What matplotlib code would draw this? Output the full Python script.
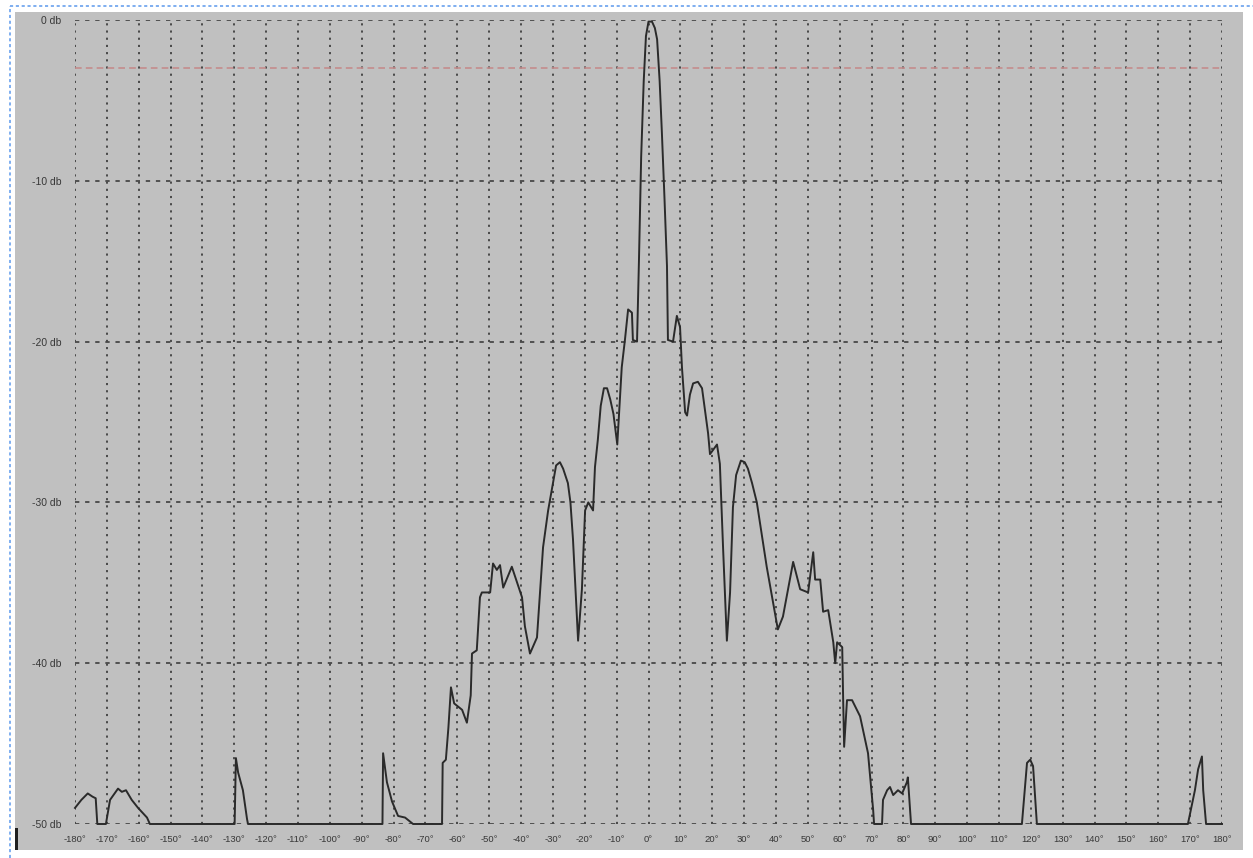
import matplotlib
matplotlib.use("Agg")
import matplotlib.pyplot as plt
from matplotlib.patches import Rectangle
from matplotlib.lines import Line2D

angle = [-180, -178, -176, -174.5, -173.5, -173, -170.3, -169, -166.5, -165.3, -164, -162.2, -160.2, -157.4, -156.5,
         -129.9, -129.5, -128.8, -127.3, -126, -125.7,
         -83.5, -83.3, -82.1, -80.5, -78.6, -76.4, -73.9,
         -64.8, -64.6, -63.6, -62.8, -62.0, -61, -58.5, -57.0, -55.8, -55.4, -53.9, -52.9, -52.3, -49.7,
         -48.8, -47.6, -46.6, -45.6, -42.9, -39.7, -38.8, -37.2, -35.0, -33.1, -31.5, -30.0, -29.0, -27.8,
         -26.8, -25.3, -24.5, -23.7, -22.1, -20.9, -19.9, -18.9, -17.4, -16.8, -15.9, -15.0, -14.0, -13.0,
         -12.0, -11, -9.8, -8.4, -7.4, -6.4, -5.2, -4.9, -3.6, -3.0, -2.3, -1.5, -0.8, 0, 1.1, 2.0, 2.7,
         3.5, 4.2, 5.0, 5.8, 6.1, 7.7, 8.9, 9.9, 10.5, 11.5, 12.1, 13.0, 14.0, 15.5, 16.8, 18.7, 19.3,
         21.5, 22.4, 23.4, 24.6, 25.6, 26.5, 27.5, 29.0, 30.2, 31.2, 32.5, 34.0, 37.1,
         40.6, 42.2, 45.4, 47.6, 50.1, 51.7, 52.3, 53.9, 54.8, 56.4, 58.0, 58.6, 59.2, 60.8, 61.1, 61.4,
         62.3, 63.9, 66.4, 68.9, 70.5, 70.8, 73.3, 73.6, 74.9, 75.8, 76.8, 78.3, 79.6, 81.1, 81.4, 82.4,
         117.2, 118.8, 119.8, 120.7, 121.9,
         169.3, 171.5, 172.5, 173.7, 174.1, 175.0, 180]
level = [-49.0, -48.5, -48.1, -48.3, -48.4, -50, -50, -48.5, -47.8, -48.0, -47.9, -48.5, -49.0, -49.6, -50,
         -50, -45.9, -46.8, -47.9, -49.7, -50,
         -50, -45.6, -47.4, -48.6, -49.5, -49.6, -50,
         -50, -46.2, -46.0, -44.0, -41.5, -42.5, -42.9, -43.7, -42.0, -39.4, -39.2, -35.9, -35.6, -35.6,
         -33.8, -34.2, -33.9, -35.3, -34.0, -35.9, -37.7, -39.4, -38.4, -32.8, -30.5, -28.8, -27.7, -27.5,
         -27.9, -28.8, -30.0, -32.3, -38.6, -35.4, -30.5, -30.0, -30.5, -27.8, -26.1, -24.0, -22.9, -22.9,
         -23.6, -24.5, -26.4, -21.6, -19.9, -18.0, -18.2, -19.9, -20, -15.0, -8.5, -3.8, -1.0, -0.1, -0.1, -0.5, -1.2,
         -3.8, -7.0, -11.0, -15.3, -19.9, -20, -18.4, -19.1, -21.6, -24.4, -24.6, -23.3, -22.6, -22.5, -22.9, -25.7, -27.0,
         -26.4, -27.6, -32.8, -38.6, -35.6, -30.3, -28.3, -27.4, -27.5, -27.9, -28.8, -30.0, -34.0,
         -37.9, -37.1, -33.7, -35.4, -35.6, -33.1, -34.8, -34.8, -36.8, -36.7, -38.7, -40.0, -38.7, -39.0, -42.3, -45.2,
         -42.3, -42.3, -43.3, -45.6, -49.1, -50, -50, -48.5, -47.9, -47.7, -48.2, -47.9, -48.1, -47.4, -47.1, -50,
         -50, -46.2, -46.0, -46.4, -50,
         -50, -47.9, -46.6, -45.8, -47.9, -50, -50]

x_ticks = list(range(-180, 181, 10))
x_labels = [str(t) + "°" for t in x_ticks]
y_ticks = [0, -10, -20, -30, -40, -50]
y_labels = [str(t) + " db" for t in y_ticks]
half_power = -3

plt.rcParams['font.family'] = ['Liberation Sans', 'DejaVu Sans']

fig = plt.figure(figsize=(12.53, 8.58), dpi=100)
W, H = 1253, 858

# grey window background and the selection frame
fig.patches.append(Rectangle((15 / W, 1 - 850 / H), (1243 - 15) / W, (850 - 12) / H,
                             transform=fig.transFigure, facecolor='#c0c0c0', edgecolor='none', zorder=-2))
fig.patches.append(Rectangle((15 / W, 1 - 850 / H), 3 / W, 22 / H,
                             transform=fig.transFigure, facecolor='#202020', edgecolor='none', zorder=-1))
fig.lines.append(Line2D([10 / W, 10 / W], [0, 1 - 6 / H], transform=fig.transFigure,
                        color='#7eaef0', lw=1.4, ls=(0, (1.6, 1.4)), zorder=-1))
fig.lines.append(Line2D([10 / W, 1], [1 - 6 / H, 1 - 6 / H], transform=fig.transFigure,
                        color='#7eaef0', lw=1.4, ls=(0, (1.6, 1.4)), zorder=-1))

ax = fig.add_axes([75 / W, 1 - 824 / H, (1222 - 75) / W, (824 - 20) / H])
ax.patch.set_alpha(0)
for s in ax.spines.values():
    s.set_visible(False)

ax.set_xlim(-180, 180)
ax.set_ylim(-50, 0)
ax.set_xticks(x_ticks)
ax.set_xticklabels(x_labels, fontsize=6.8, color='#383838')
ax.set_yticks(y_ticks)
ax.set_yticklabels(y_labels, fontsize=7.5, color='#383838')
ax.tick_params(length=0, pad=8)
ax.tick_params(axis='y', pad=10)

for t in x_ticks:
    ax.axvline(t, color='#484848', lw=1.4, ls=(0, (1.1, 2.6)), zorder=1)
for t in y_ticks:
    ax.axhline(t, color='#484848', lw=1.3, ls=(0, (2.4, 3.2)), zorder=1)

ax.axhline(half_power, color='#c48c8c', lw=1.2, ls=(0, (4, 2.5)), zorder=1.5)

ax.plot(angle, level, color='#2a2a2a', lw=1.4, zorder=3, clip_on=False)

fig.savefig('out.png', dpi=100, facecolor='white')
